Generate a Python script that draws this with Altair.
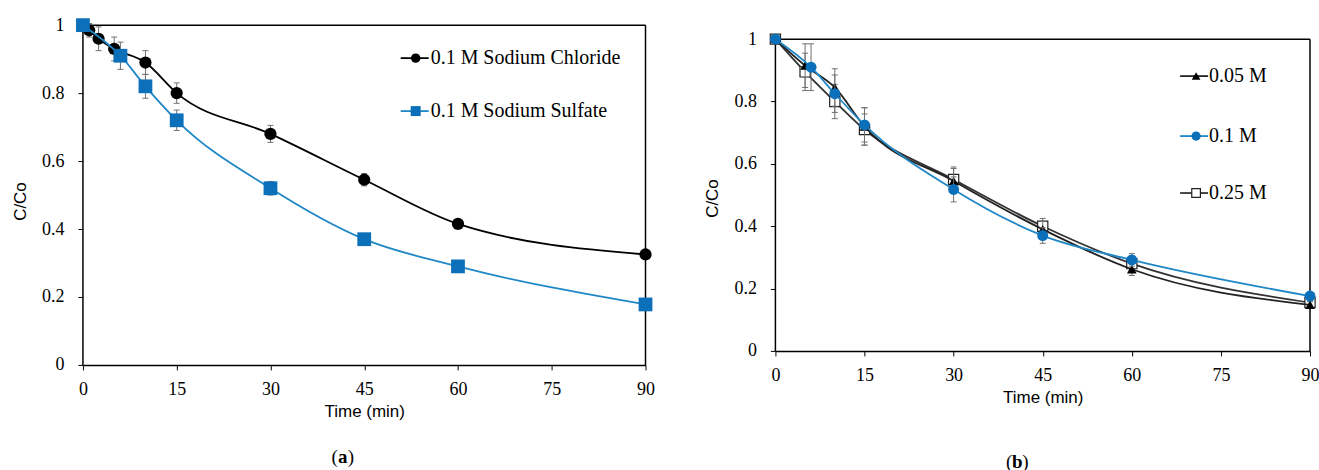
import altair as alt
import pandas as pd

# ---------------- data ----------------
x_ticks = [0, 15, 30, 45, 60, 75, 90]
y_ticks = [0, 0.2, 0.4, 0.6, 0.8, 1]

# Panel (a)
a_cl_time = [0, 1, 2.5, 5, 10, 15, 30, 45, 60, 90]
a_cl_val = [1.0, 0.985, 0.96, 0.93, 0.89, 0.80, 0.68, 0.545, 0.415, 0.325]
a_cl_err = [0.0, 0.02, 0.035, 0.035, 0.035, 0.03, 0.025, 0.018, 0.01, 0.01]
a_su_time = [0, 6, 10, 15, 30, 45, 60, 90]
a_su_val = [1.0, 0.91, 0.82, 0.72, 0.52, 0.37, 0.29, 0.178]
a_su_err = [0.0, 0.04, 0.035, 0.03, 0.02, 0.01, 0.01, 0.01]
a_labels = ["0.1 M Sodium Chloride", "0.1 M Sodium Sulfate"]

# Panel (b)
b_005_time = [0, 5, 10, 15, 30, 45, 60, 90]
b_005_val = [1.0, 0.915, 0.845, 0.72, 0.545, 0.39, 0.262, 0.148]
b_005_err = [0.0, 0.07, 0.06, 0.06, 0.04, 0.025, 0.02, 0.01]
b_01_time = [0, 6, 10, 15, 30, 45, 60, 90]
b_01_val = [1.0, 0.91, 0.825, 0.725, 0.518, 0.37, 0.292, 0.176]
b_01_err = [0.0, 0.075, 0.06, 0.055, 0.04, 0.025, 0.02, 0.01]
b_025_time = [0, 5, 10, 15, 30, 45, 60, 90]
b_025_val = [1.0, 0.895, 0.80, 0.71, 0.55, 0.40, 0.28, 0.155]
b_025_err = [0.0, 0.06, 0.055, 0.05, 0.04, 0.025, 0.02, 0.01]
b_labels = ["0.05 M", "0.1 M", "0.25 M"]

# ---------------- styling ----------------
SERIF = "Liberation Serif"
SANS = "Liberation Sans"
BLUE = "#0b70b9"
BLUE_LINE = "#2088c6"
ERR = "#707070"
LABEL_SIZE = 18

A_W, A_H = 563, 340
B_W, B_H = 535, 326
B_YMAX = 1 + 14 / 312


def make_df(t, v, e):
    return pd.DataFrame({"t": t, "v": v,
                         "lo": [a - b for a, b in zip(v, e)],
                         "hi": [a + b for a, b in zip(v, e)],
                         "e": e})


def x_axis():
    return alt.Axis(values=x_ticks, title="Time (min)", grid=False, domain=True,
                    domainColor="black", domainWidth=1.5, tickColor="black",
                    tickSize=5, tickWidth=1, labelFont=SERIF, labelFontSize=LABEL_SIZE,
                    labelColor="black", labelPadding=11, labelFlush=False,
                    titleFont=SANS, titleFontSize=17, titleFontWeight="normal",
                    titleColor="black", titlePadding=5)


def y_axis(title_y):
    return alt.Axis(values=y_ticks, format="~g", title="C/Co", grid=False, domain=False,
                    tickColor="black", tickSize=5, tickWidth=1, labelFont=SERIF,
                    labelFontSize=LABEL_SIZE, labelColor="black", labelPadding=14,
                    labelFlush=False, titleFont=SANS, titleFontSize=17,
                    titleFontWeight="normal", titleColor="black", titlePadding=12,
                    titleY=title_y)


class Panel:
    def __init__(self, xs, ys, title_y):
        self.xs, self.ys = xs, ys
        self.xa, self.ya = x_axis(), y_axis(title_y)

    def X(self, field=None, datum=None):
        if datum is not None:
            return alt.X(datum=datum, scale=self.xs, axis=self.xa, title="Time (min)")
        return alt.X(field, type="quantitative", scale=self.xs, axis=self.xa, title="Time (min)")

    def Y(self, field=None, datum=None):
        if datum is not None:
            return alt.Y(datum=datum, scale=self.ys, axis=self.ya, title="C/Co")
        return alt.Y(field, type="quantitative", scale=self.ys, axis=self.ya, title="C/Co")


def series_layers(P, df, line_color, point_mark):
    base = alt.Chart(df)
    line = base.mark_line(interpolate="monotone", color=line_color, strokeWidth=1.8).encode(
        x=P.X("t"), y=P.Y("v"))
    eb = alt.Chart(df[df["e"] > 0])
    bar = eb.mark_rule(color=ERR, strokeWidth=1).encode(x=P.X("t"), y=P.Y("lo"), y2="hi:Q")
    cap_hi = eb.mark_rule(color=ERR, strokeWidth=1, xOffset=-3, x2Offset=3).encode(
        x=P.X("t"), x2="t:Q", y=P.Y("hi"))
    cap_lo = eb.mark_rule(color=ERR, strokeWidth=1, xOffset=-3, x2Offset=3).encode(
        x=P.X("t"), x2="t:Q", y=P.Y("lo"))
    pts = point_mark(base).encode(x=P.X("t"), y=P.Y("v"))
    return [line, bar, cap_hi, cap_lo, pts]


def frame_layers(P):
    one = alt.Chart(pd.DataFrame({"k": [0]}))
    left = one.mark_rule(color="black", strokeWidth=1.5).encode(
        x=P.X(datum=0), y=P.Y(datum=0), y2=alt.datum(1))
    top = one.mark_rule(color="black", strokeWidth=1.5).encode(
        x=P.X(datum=0), x2=alt.datum(90), y=P.Y(datum=1))
    right = one.mark_rule(color="black", strokeWidth=1.5).encode(
        x=P.X(datum=90), y=P.Y(datum=0), y2=alt.datum(1))
    return [left, top, right]


def legend_entry(label, y, x1, x2, xm, xt, line_color, point_mark):
    d = alt.Chart(pd.DataFrame({"label": [label]}))
    ln = d.mark_rule(color=line_color, strokeWidth=1.8).encode(
        x=alt.value(x1), x2=alt.value(x2), y=alt.value(y))
    pt = point_mark(d).encode(x=alt.value(xm), y=alt.value(y))
    tx = d.mark_text(align="left", baseline="middle", font=SERIF, fontSize=20,
                     color="black").encode(x=alt.value(xt), y=alt.value(y), text="label:N")
    return [ln, pt, tx]


def caption(letter, cx, cy):
    lp = alt.Chart(pd.DataFrame({"s": ["("]})).mark_text(
        align="right", baseline="middle", font=SERIF, fontSize=19, color="black").encode(
        x=alt.value(cx - 5), y=alt.value(cy), text="s:N")
    mid = alt.Chart(pd.DataFrame({"s": [letter]})).mark_text(
        align="center", baseline="middle", font=SERIF, fontSize=19, fontWeight="bold",
        color="black").encode(x=alt.value(cx), y=alt.value(cy), text="s:N")
    rp = alt.Chart(pd.DataFrame({"s": [")"]})).mark_text(
        align="left", baseline="middle", font=SERIF, fontSize=19, color="black").encode(
        x=alt.value(cx + 5), y=alt.value(cy), text="s:N")
    return [lp, mid, rp]


# marker styles
def black_circle(c, size=150):
    return c.mark_point(shape="circle", filled=True, color="black", size=size, opacity=1)


def blue_square(c, size=190):
    return c.mark_point(shape="square", filled=True, color=BLUE, size=size, opacity=1)


def blue_circle(c, size=120):
    return c.mark_point(shape="circle", filled=True, color=BLUE, size=size, opacity=1)


def black_triangle(c, size=95):
    return c.mark_point(shape="triangle-up", filled=True, color="black", size=size, opacity=1)


def open_square(c, size=105):
    return c.mark_point(shape="square", filled=True, fill="white", stroke="#222222",
                        strokeWidth=1.2, size=size, opacity=1)


# ---------------- panel (a) ----------------
PA = Panel(alt.Scale(domain=[0, 90], nice=False, zero=False),
           alt.Scale(domain=[0, 1], nice=False, zero=False), 176)
df_cl = make_df(a_cl_time, a_cl_val, a_cl_err)
df_su = make_df(a_su_time, a_su_val, a_su_err)

layers_a = frame_layers(PA)
layers_a += series_layers(PA, df_cl, "black", black_circle)
layers_a += series_layers(PA, df_su, BLUE_LINE, blue_square)
layers_a += legend_entry(a_labels[0], 33, 318, 346, 333, 348, "black",
                         lambda c: black_circle(c, 90))
layers_a += legend_entry(a_labels[1], 86, 318, 346, 333, 348, BLUE_LINE,
                         lambda c: blue_square(c, 100))
layers_a += caption("a", 260, 432)

panel_a = alt.layer(*layers_a).properties(width=A_W, height=A_H)

# ---------------- panel (b) ----------------
PB = Panel(alt.Scale(domain=[0, 90], nice=False, zero=False),
           alt.Scale(domain=[0, B_YMAX], nice=False, zero=False), 173)
df_005 = make_df(b_005_time, b_005_val, b_005_err)
df_01 = make_df(b_01_time, b_01_val, b_01_err)
df_025 = make_df(b_025_time, b_025_val, b_025_err)

layers_b = frame_layers(PB)
layers_b += series_layers(PB, df_025, "#333333", open_square)
layers_b += series_layers(PB, df_005, "#222222", black_triangle)
layers_b += series_layers(PB, df_01, BLUE_LINE, blue_circle)
layers_b += legend_entry(b_labels[0], 51, 405, 433, 421, 434, "#222222",
                         lambda c: black_triangle(c, 75))
layers_b += legend_entry(b_labels[1], 111, 405, 433, 421, 434, BLUE_LINE,
                         lambda c: blue_circle(c, 85))
layers_b += legend_entry(b_labels[2], 168, 405, 433, 421, 434, "#333333",
                         lambda c: open_square(c, 75))
layers_b += caption("b", 242, 437)

panel_b = alt.layer(*layers_b).properties(width=B_W, height=B_H)

chart = alt.hconcat(panel_a, panel_b, spacing=130, bounds="flush").configure_view(
    stroke=None).configure_axis(
    labelFont=SERIF, labelFontSize=LABEL_SIZE, labelColor="black",
    titleFont=SANS, titleFontSize=17, titleFontWeight="normal", titleColor="black").properties(
    padding={"left": 11, "top": 16, "right": 0, "bottom": 0},
    background="white")

chart.save("out.html", embed_options={"renderer": "svg", "actions": False})
